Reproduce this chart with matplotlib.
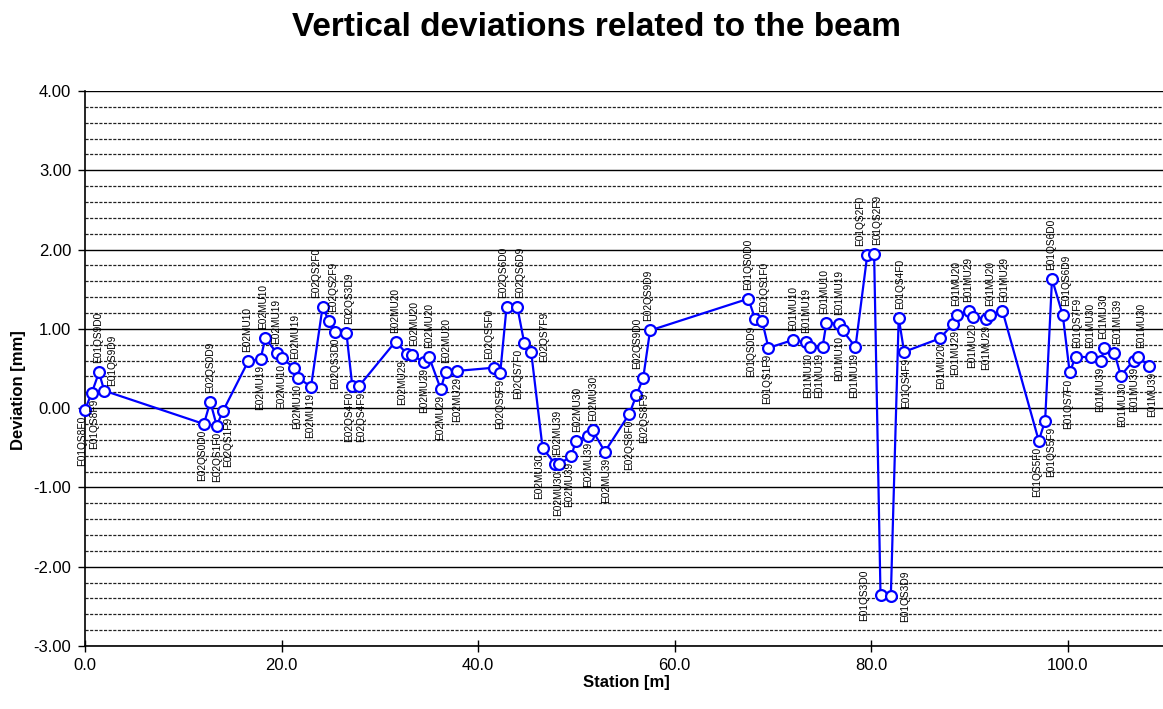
import matplotlib
matplotlib.use("Agg")
import matplotlib.pyplot as plt
import numpy as np
from matplotlib.ticker import FormatStrFormatter, FixedLocator

plt.rcParams['font.family'] = ['Liberation Sans', 'DejaVu Sans']

station = [0.0, 0.68, 1.42, 1.96, 12.1, 12.75, 13.4, 14.07,
           16.6, 17.87, 18.34, 19.56, 20.0, 21.3, 21.7, 23.0,
           24.18, 24.8, 25.46, 26.6, 27.2, 27.9,
           31.6, 32.8, 33.3, 34.5, 35.0, 36.2, 36.7, 37.9,
           41.6, 42.25, 42.9, 44.0, 44.7, 45.4,
           46.56, 47.8, 48.25, 49.5, 49.95, 51.2, 51.65, 52.9,
           55.4, 56.1, 56.8, 57.5,
           67.5, 68.2, 68.9, 69.55,
           72.05, 73.35, 73.75, 75.05, 75.45, 76.7, 77.1, 78.4,
           79.6, 80.3, 80.95, 82.0, 82.8, 83.35,
           87.0, 88.3, 88.7, 90.0, 90.4, 91.7, 92.1, 93.35,
           97.05, 97.7, 98.4, 99.5, 100.2, 100.8,
           102.4, 103.4, 103.7, 104.75, 105.4, 106.7, 107.1, 108.3]

deviation = [-0.02, 0.19, 0.45, 0.22, -0.20, 0.08, -0.22, -0.03,
             0.59, 0.62, 0.88, 0.69, 0.63, 0.51, 0.38, 0.27,
             1.28, 1.10, 0.96, 0.95, 0.28, 0.28,
             0.84, 0.68, 0.67, 0.58, 0.65, 0.24, 0.46, 0.47,
             0.51, 0.44, 1.28, 1.27, 0.82, 0.71,
             -0.50, -0.70, -0.71, -0.60, -0.41, -0.35, -0.28, -0.55,
             -0.07, 0.16, 0.38, 0.98,
             1.38, 1.12, 1.10, 0.76,
             0.86, 0.83, 0.77, 0.77, 1.08, 1.06, 0.98, 0.77,
             1.93, 1.94, -2.36, -2.37, 1.14, 0.71,
             0.88, 1.06, 1.17, 1.22, 1.15, 1.13, 1.17, 1.23,
             -0.41, -0.16, 1.63, 1.17, 0.45, 0.65,
             0.64, 0.59, 0.76, 0.70, 0.41, 0.60, 0.65, 0.53]

names = ["E01QS8F0", "E01QS8F9", "E01QS9D0", "E01QS9D9",
         "E02QS0D0", "E02QS0D9", "E02QS1F0", "E02QS1F9",
         "E02MU10", "E02MU19", "E02MU10", "E02MU19", "E02MU10", "E02MU19", "E02MU10", "E02MU19",
         "E02QS2F0", "E02QS2F9", "E02QS3D0", "E02QS3D9", "E02QS4F0", "E02QS4F9",
         "E02MU20", "E02MU29", "E02MU20", "E02MU29", "E02MU20", "E02MU29", "E02MU20", "E02MU29",
         "E02QS5F0", "E02QS5F9", "E02QS6D0", "E02QS6D9", "E02QS7F0", "E02QS7F9",
         "E02MU30", "E02MU39", "E02MU30", "E02MU39", "E02MU30", "E02MU39", "E02MU30", "E02MU39",
         "E02QS8F0", "E02QS8F9", "E02QS9D0", "E02QS9D9",
         "E01QS0D0", "E01QS0D9", "E01QS1F0", "E01QS1F9",
         "E01MU10", "E01MU19", "E01MU10", "E01MU19", "E01MU10", "E01MU19", "E01MU10", "E01MU19",
         "E01QS2F0", "E01QS2F9", "E01QS3D0", "E01QS3D9", "E01QS4F0", "E01QS4F9",
         "E01MU20", "E01MU29", "E01MU20", "E01MU29", "E01MU20", "E01MU29", "E01MU20", "E01MU29",
         "E01QS5F0", "E01QS5F9", "E01QS6D0", "E01QS6D9", "E01QS7F0", "E01QS7F9",
         "E01MU30", "E01MU39", "E01MU30", "E01MU39", "E01MU30", "E01MU39", "E01MU30", "E01MU39"]

# label placement: 'a' above, 'b' below, 'l' left, 'r' right
label_pos = ['b', 'b', 'a', 'a', 'b', 'a', 'b', 'b',
             'a', 'b', 'a', 'a', 'b', 'a', 'b', 'b',
             'a', 'a', 'b', 'a', 'b', 'b',
             'a', 'b', 'a', 'b', 'a', 'b', 'a', 'b',
             'a', 'b', 'a', 'a', 'b', 'a',
             'b', 'a', 'b', 'b', 'a', 'b', 'a', 'b',
             'b', 'b', 'a', 'a',
             'a', 'b', 'a', 'b',
             'a', 'a', 'b', 'b', 'a', 'a', 'b', 'b',
             'a', 'a', 'l', 'r', 'a', 'b',
             'b', 'b', 'a', 'a', 'b', 'b', 'a', 'a',
             'b', 'b', 'a', 'a', 'b', 'a',
             'a', 'b', 'a', 'a', 'b', 'b', 'a', 'b']

# small horizontal nudges of individual labels (pixels), as seen in the reference
label_dx = [-3, 2, -1, 8, -2, 0, 0, 5,
            -1, 0, -2, -1, 0, 1, -1, -1,
            -6, 4, 0, 3, -3, 2,
            0, -5, 2, 0, 0, -1, 0, 0,
            -5, 0, -3, 3, -6, 13,
            -3, 2, -1, -2, 1, 0, 1, 1,
            0, 8, -6, -2,
            0, -4, 2, -1,
            0, 0, -2, -3, -2, 0, -4, -1,
            -7, 3, 0, 0, 1, 2,
            1, 2, -1, -1, -1, 0, 0, 2,
            -2, 6, -1, 3, -2, 2,
            -1, -1, -1, 3, 1, 1, 4, 3]
label_dy = {3: -4, 35: -19, 45: -9}

W, H = 1163, 709
DPI = 100
fig = plt.figure(figsize=(W / DPI, H / DPI), dpi=DPI)
left_px, right_px, top_px, bottom_px = 85, 1166, 91, 646
ax = fig.add_axes([left_px / W, 1 - bottom_px / H, (right_px - left_px) / W, (bottom_px - top_px) / H])

ax.set_xlim(0, 110)
ax.set_ylim(-3, 4)

for v in np.arange(-3, 4.01, 1.0):
    ax.axhline(v, color='black', lw=1.0, zorder=1)
for v in np.arange(-3, 4.0, 0.2):
    if abs(v - round(v)) > 1e-6:
        ax.axhline(v, color='#222222', lw=0.9, ls=(0, (2.5, 1.2)), zorder=1)

ax.plot(station, deviation, color='#0000ff', lw=1.6, marker='o', markersize=7.8,
        markerfacecolor='white', markeredgecolor='#0000ff', markeredgewidth=1.6, zorder=3,
        clip_on=False)

px2pt = 72.0 / DPI
for i, (x, y, n, p) in enumerate(zip(station, deviation, names, label_pos)):
    dx = label_dx[i]
    extra = label_dy.get(i, 0)
    if p == 'a':
        off, va = (dx * px2pt, (9 + extra) * px2pt), 'bottom'
    elif p == 'b':
        off, va = (dx * px2pt, -(6 + extra) * px2pt), 'top'
    elif p == 'l':
        off, va = (-16 * px2pt, 0), 'center'
    else:
        off, va = (14 * px2pt, 0), 'center'
    ax.annotate(n, (x, y), xytext=off, textcoords='offset points', rotation=90,
                ha='center', va=va, fontsize=7.3, zorder=4, annotation_clip=False)

ax.xaxis.set_major_locator(FixedLocator([0, 20, 40, 60, 80, 100]))
ax.xaxis.set_major_formatter(FormatStrFormatter('%.1f'))
ax.yaxis.set_major_locator(FixedLocator(np.arange(-3, 4.01, 1.0)))
ax.yaxis.set_major_formatter(FormatStrFormatter('%.2f'))
ax.tick_params(axis='x', direction='inout', length=8, width=1, labelsize=12, pad=5)
ax.tick_params(axis='y', direction='out', length=5, width=1, labelsize=12, pad=5)

for s in ['top', 'right']:
    ax.spines[s].set_visible(False)
ax.spines['left'].set_linewidth(1.2)
ax.spines['bottom'].set_linewidth(1.2)

fig.text(626 / W, 1 - 683 / H, 'Station [m]', ha='center', va='center',
         fontsize=12, fontweight='bold')
fig.text(19 / W, 1 - 390 / H, 'Deviation [mm]', ha='center', va='center', rotation=90,
         fontsize=12, fontweight='bold')

fig.text(596 / W, 1 - 28 / H, 'Vertical deviations related to the beam', ha='center', va='center',
         fontsize=24, fontweight='bold')

fig.savefig('out.png', dpi=DPI)
